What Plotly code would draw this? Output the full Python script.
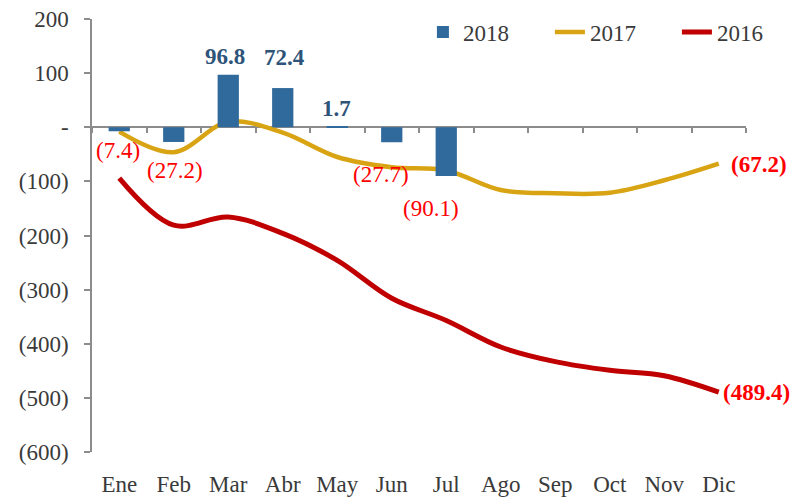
import plotly.graph_objects as go

months = ["Ene", "Feb", "Mar", "Abr", "May", "Jun", "Jul", "Ago", "Sep", "Oct", "Nov", "Dic"]
months_2018 = ["Ene", "Feb", "Mar", "Abr", "May", "Jun", "Jul"]
values_2018 = [-7.4, -27.2, 96.8, 72.4, 1.7, -27.7, -90.1]
values_2017 = [-8, -46, 10, -10, -55, -74, -80, -116, -122, -121, -98, -67.2]
values_2016 = [-94, -181, -166, -196, -246, -316, -357, -406, -433, -449, -459, -489.4]
y_tickvals = [200, 100, 0, -100, -200, -300, -400, -500, -600]
y_ticktext = ["200", "100", "-", "(100)", "(200)", "(300)", "(400)", "(500)", "(600)"]
series_names = ["2018", "2017", "2016"]

# label nudges (pixels) for the 2018 bar labels: (dx, dy)
bar_label_nudge = [(-1, -19), (1, -29), (-3, 18), (2, 31), (-1, 18), (-11, -32), (-15, -32)]

FONT = "Liberation Serif"
BLUE = "#30699B"
GOLD = "#D9A413"
RED = "#C00000"
LABEL_RED = "#FF0000"
AXIS = "#8C8C8C"
TEXT = "#3A3A3A"


def fmt(v):
    return f"({abs(v):.1f})" if v < 0 else f"{v:.1f}"


fig = go.Figure()
fig.add_trace(go.Bar(
    x=months_2018, y=values_2018, name=series_names[0],
    marker=dict(color=BLUE, line=dict(width=0)),
    xaxis="x2", yaxis="y",
))
fig.add_trace(go.Scatter(
    x=months, y=values_2017, name=series_names[1], mode="lines",
    line=dict(color=GOLD, width=4.5, shape="spline", smoothing=1),
))
fig.add_trace(go.Scatter(
    x=months, y=values_2016, name=series_names[2], mode="lines",
    line=dict(color=RED, width=5, shape="spline", smoothing=1),
))

annotations = []
for m, v, (dx, dy) in zip(months_2018, values_2018, bar_label_nudge):
    pos = v >= 0
    annotations.append(dict(
        x=m, y=v, xref="x", yref="y", text=f"<b>{fmt(v)}</b>" if pos else fmt(v),
        showarrow=False, xanchor="center", yanchor="middle",
        xshift=dx, yshift=dy,
        font=dict(family=FONT, size=23, color="#2E5479" if pos else LABEL_RED),
    ))
annotations.append(dict(
    x=months[-1], y=values_2017[-1], xref="x", yref="y",
    text=f"<b>{fmt(values_2017[-1])}</b>", showarrow=False,
    xanchor="left", yanchor="middle", xshift=10, yshift=-1,
    font=dict(family=FONT, size=23, color=LABEL_RED),
))
annotations.append(dict(
    x=months[-1], y=values_2016[-1], xref="x", yref="y",
    text=f"<b>{fmt(values_2016[-1])}</b>", showarrow=False,
    xanchor="left", yanchor="middle", xshift=2, yshift=0,
    font=dict(family=FONT, size=23, color=LABEL_RED),
))

fig.update_layout(
    width=810, height=502,
    margin=dict(l=84, r=72, t=11, b=58, autoexpand=False),
    paper_bgcolor="white", plot_bgcolor="white",
    font=dict(family=FONT, size=23, color=TEXT),
    bargap=0.61,
    showlegend=True,
    legend=dict(
        orientation="h", x=0.506, xanchor="left", y=0.97, yanchor="middle",
        font=dict(family=FONT, size=23, color=TEXT),
        bgcolor="rgba(0,0,0,0)", itemwidth=30, tracegroupgap=0,
        entrywidth=82,
    ),
    xaxis=dict(
        type="category", categoryorder="array", categoryarray=months,
        range=[-0.5, 11.5], showline=False, showgrid=False, zeroline=False,
        ticks="outside", ticklen=11, tickcolor="rgba(0,0,0,0)",
        tickfont=dict(family=FONT, size=23, color=TEXT), automargin=False,
        ticklabeloverflow="allow",
    ),
    xaxis2=dict(
        type="category", categoryorder="array", categoryarray=months,
        matches="x", overlaying="x", anchor="free", position=0.75,
        showline=True, linecolor=AXIS, linewidth=1.5,
        ticks="outside", tickson="boundaries", ticklen=5, tickcolor=AXIS, tickwidth=1.5,
        showticklabels=False, showgrid=False, zeroline=False, layer="below traces",
        automargin=False,
    ),
    yaxis=dict(
        range=[-600, 200], tickvals=y_tickvals, ticktext=y_ticktext,
        showline=True, linecolor=AXIS, linewidth=1.5,
        ticks="outside", ticklen=6, tickcolor=AXIS, tickwidth=1.5,
        ticklabelstandoff=11, ticklabeloverflow="allow",
        showgrid=False, zeroline=False, automargin=False,
        tickfont=dict(family=FONT, size=23, color=TEXT),
    ),
    annotations=annotations,
)

fig.write_html("out.html")
